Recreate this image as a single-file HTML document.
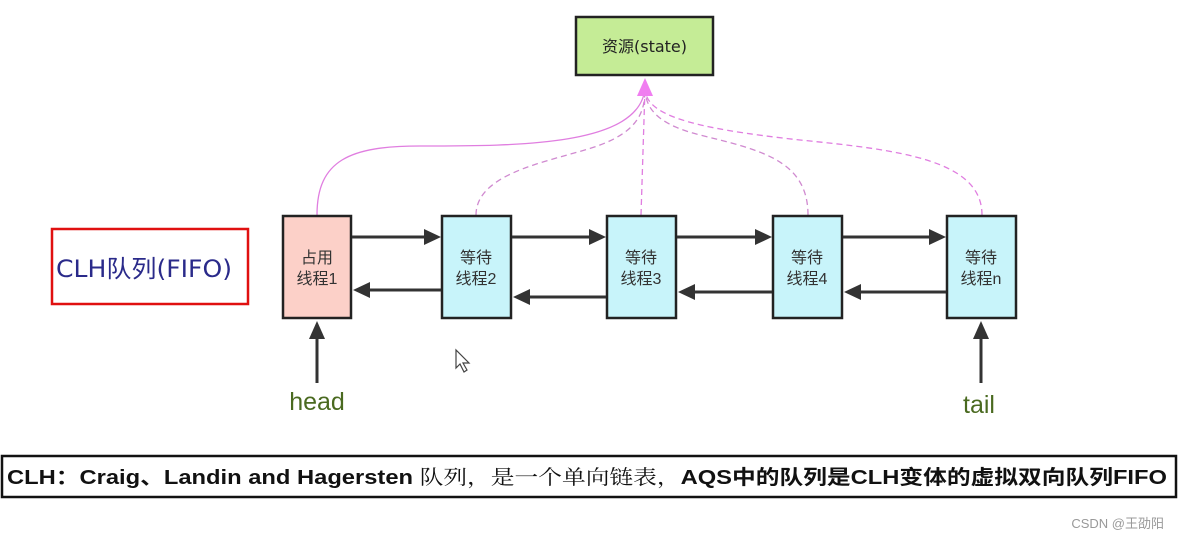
<!DOCTYPE html>
<html><head><meta charset="utf-8"><style>
body{margin:0;width:1179px;height:540px;background:#fff;overflow:hidden;font-family:"Liberation Sans","Noto Sans CJK SC",sans-serif}
</style></head><body>
<svg width="1179" height="540" viewBox="0 0 1179 540" xmlns="http://www.w3.org/2000/svg" style="position:absolute;left:0;top:0">
<rect x="576" y="17" width="137" height="58" fill="#c5ec96" stroke="#222" stroke-width="2.5"/>
<text x="644.5" y="52" font-size="16" text-anchor="middle" fill="#222" font-family="'DejaVu Sans','Noto Sans CJK SC',sans-serif">资源(state)</text>
<g fill="none" stroke="#e07ee0" stroke-width="1.3">
<path d="M317,215 C317,160 350,146 420,146 C520,146 640,146 645,88"/>
<path d="M476,215 C476,170 560,160 600,145 C640,130 645,110 645,88" stroke-dasharray="6,4" stroke="#d08ad0"/>
<path d="M641,215 L645,88" stroke-dasharray="6,4"/>
<path d="M808,215 C808,160 760,150 700,135 C660,125 645,110 645,88" stroke-dasharray="6,4" stroke="#d08ad0"/>
<path d="M982,215 C982,160 900,150 800,140 C690,128 645,115 645,88" stroke-dasharray="6,4"/>
</g>
<path d="M637,96 L645,78 L653,96 Z" fill="#f07ef0"/>
<rect x="52" y="229" width="196" height="75" fill="#fff" stroke="#e01010" stroke-width="2.5"/>
<text x="56" y="277" font-size="24" fill="#2a2a8a" font-family="'DejaVu Sans','Noto Sans CJK SC',sans-serif" textLength="176" lengthAdjust="spacingAndGlyphs">CLH队列(FIFO)</text>
<g stroke="#222" stroke-width="2.5">
<rect x="283" y="216" width="68" height="102" fill="#fcd0c8"/>
<rect x="442" y="216" width="69" height="102" fill="#c8f4fa"/>
<rect x="607" y="216" width="69" height="102" fill="#c8f4fa"/>
<rect x="773" y="216" width="69" height="102" fill="#c8f4fa"/>
<rect x="947" y="216" width="69" height="102" fill="#c8f4fa"/>
</g>
<g font-size="16" text-anchor="middle" fill="#333">
<text x="317" y="263">占用</text><text x="317" y="284">线程1</text>
<text x="476" y="263">等待</text><text x="476" y="284">线程2</text>
<text x="641" y="263">等待</text><text x="641" y="284">线程3</text>
<text x="807" y="263">等待</text><text x="807" y="284">线程4</text>
<text x="981" y="263">等待</text><text x="981" y="284">线程n</text>
</g>
<g stroke="#333" stroke-width="3">
<line x1="352" y1="237" x2="425" y2="237"/><line x1="512" y1="237" x2="590" y2="237"/><line x1="677" y1="237" x2="756" y2="237"/><line x1="843" y1="237" x2="930" y2="237"/>
<line x1="441" y1="290" x2="368" y2="290"/><line x1="606" y1="297" x2="528" y2="297"/><line x1="772" y1="292" x2="693" y2="292"/><line x1="946" y1="292" x2="860" y2="292"/>
<line x1="317" y1="383" x2="317" y2="336"/><line x1="981" y1="383" x2="981" y2="336"/>
</g>
<g fill="#333">
<path d="M441,237 L424,229 L424,245Z"/><path d="M606,237 L589,229 L589,245Z"/><path d="M772,237 L755,229 L755,245Z"/><path d="M946,237 L929,229 L929,245Z"/>
<path d="M353,290 L370,282 L370,298Z"/><path d="M513,297 L530,289 L530,305Z"/><path d="M678,292 L695,284 L695,300Z"/><path d="M844,292 L861,284 L861,300Z"/>
<path d="M317,321 L309,339 L325,339Z"/><path d="M981,321 L973,339 L989,339Z"/>
</g>
<text x="317" y="410" font-size="25" text-anchor="middle" fill="#4a6a20">head</text>
<text x="979" y="413" font-size="25" text-anchor="middle" fill="#4a6a20">tail</text>
<path d="M456,350 L456,368 L460,364 L464,372 L467,370 L463,363 L469,363 Z" fill="#fff" stroke="#444" stroke-width="1.2"/>
<rect x="2" y="456" width="1174" height="41" fill="#fff" stroke="#111" stroke-width="2.5"/>
<text x="7" y="484" font-size="20" font-weight="bold" fill="#111" textLength="1160" lengthAdjust="spacingAndGlyphs">CLH：Craig、Landin and Hagersten <tspan font-weight="normal" font-family="'Noto Serif CJK SC',serif">队列，是一个单向链表，</tspan>AQS中的队列是CLH变体的虚拟双向队列FIFO</text>
<text x="1164" y="528" font-size="13" text-anchor="end" fill="#999">CSDN @王劭阳</text>
</svg>
</body></html>
